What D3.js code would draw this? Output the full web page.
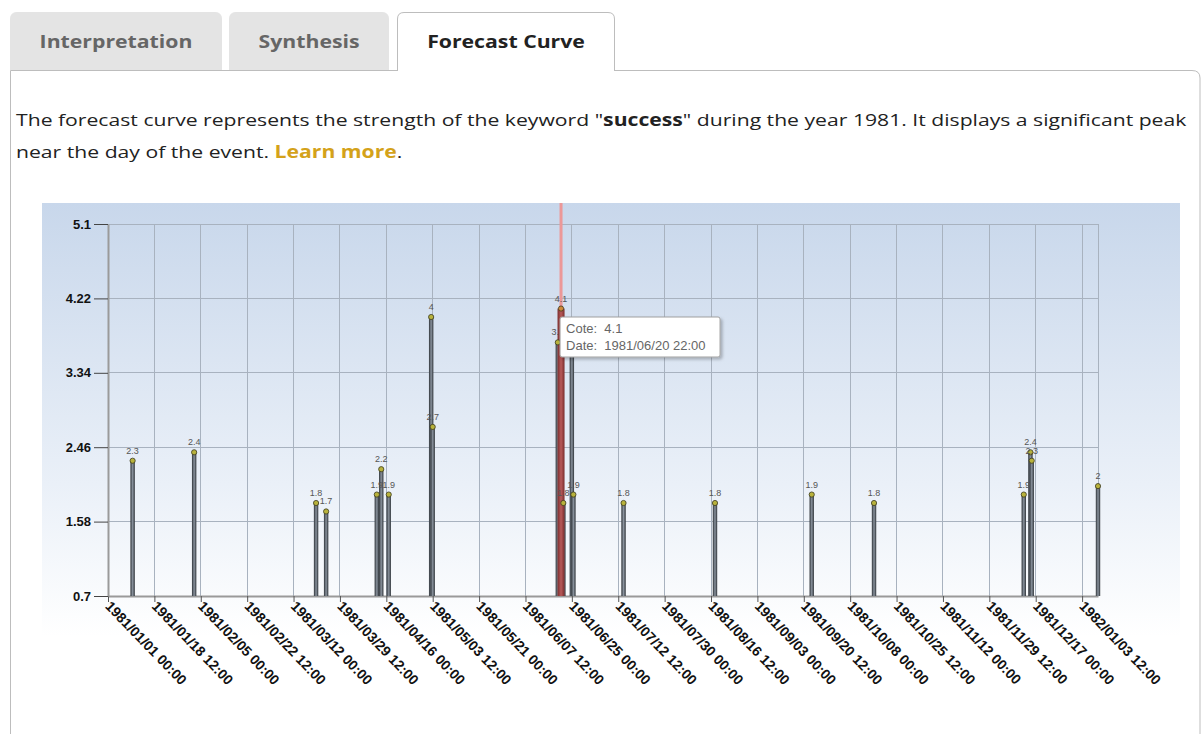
<!DOCTYPE html>
<html>
<head>
<meta charset="utf-8">
<script src="https://cdn.jsdelivr.net/npm/d3@7"></script>
<style>
  html, body { margin: 0; padding: 0; background: #fff; }
  svg { display: block; }
</style>
</head>
<body>
<svg id="page" width="1204" height="734"></svg>
<script>
// 데이터
const tabLabels = ["Interpretation", "Synthesis", "Forecast Curve"];
const activeTab = 2;

const pointDates = [
  "1981/01/10 07:00", "1981/02/02 12:00", "1981/03/20 12:00", "1981/03/24 07:00",
  "1981/04/12 10:00", "1981/04/14 02:00", "1981/04/16 22:00", "1981/05/02 22:00",
  "1981/05/03 12:00", "1981/06/19 17:00", "1981/06/20 22:00", "1981/06/21 19:00",
  "1981/06/25 00:00", "1981/06/25 14:00", "1981/07/14 12:00", "1981/08/18 00:00",
  "1981/09/23 12:00", "1981/10/17 00:00", "1981/12/12 12:00", "1981/12/15 00:00",
  "1981/12/15 12:00", "1982/01/09 12:00"
];
const pointValues = [
  2.3, 2.4, 1.8, 1.7,
  1.9, 2.2, 1.9, 4,
  2.7, 3.7, 4.1, 1.8,
  3.8, 1.9, 1.8, 1.8,
  1.9, 1.8, 1.9, 2.4,
  2.3, 2
];
const highlightIndex = 10;

const xTickLabels = [
  "1981/01/01 00:00", "1981/01/18 12:00", "1981/02/05 00:00", "1981/02/22 12:00",
  "1981/03/12 00:00", "1981/03/29 12:00", "1981/04/16 00:00", "1981/05/03 12:00",
  "1981/05/21 00:00", "1981/06/07 12:00", "1981/06/25 00:00", "1981/07/12 12:00",
  "1981/07/30 00:00", "1981/08/16 12:00", "1981/09/03 00:00", "1981/09/20 12:00",
  "1981/10/08 00:00", "1981/10/25 12:00", "1981/11/12 00:00", "1981/11/29 12:00",
  "1981/12/17 00:00", "1982/01/03 12:00"
];
const yTickValues = [0.7, 1.58, 2.46, 3.34, 4.22, 5.1];

const parse = d3.utcParse("%Y/%m/%d %H:%M");
const fmt = d3.utcFormat("%Y/%m/%d %H:%M");
const points = pointDates.map((s, i) => ({ date: parse(s), value: pointValues[i], i }));

const svg = d3.select("#page");
const defs = svg.append("defs");

// ---- 탭 + 패널 ----
const tabX = [[10, 222], [229, 389], [397, 615]];
const tabTop = 12, panelTop = 70;

svg.append("path")
  .attr("d", `M10.5,734 L10.5,${panelTop + 0.5} L1192,${panelTop + 0.5} Q1200,${panelTop + 0.5} 1200,${panelTop + 8} L1200,734`)
  .attr("fill", "none").attr("stroke", "#bdbdbd");

tabLabels.forEach((t, i) => {
  const [x0, x1] = tabX[i];
  const r = 7, active = i === activeTab;
  const bottom = panelTop + (active ? 1 : 0);
  svg.append("path")
    .attr("d", `M${x0 + 0.5},${bottom} L${x0 + 0.5},${tabTop + r} Q${x0 + 0.5},${tabTop + 0.5} ${x0 + r},${tabTop + 0.5} L${x1 - r},${tabTop + 0.5} Q${x1 - 0.5},${tabTop + 0.5} ${x1 - 0.5},${tabTop + r} L${x1 - 0.5},${bottom}`)
    .attr("fill", active ? "#fff" : "#e4e4e4")
    .attr("stroke", active ? "#bdbdbd" : "#e4e4e4");
  svg.append("text")
    .attr("transform", `translate(${(x0 + x1) / 2},48) scale(1.18,1)`)
    .attr("text-anchor", "middle")
    .style("font", "bold 18px 'Open Sans', sans-serif")
    .attr("fill", active ? "#222" : "#666")
    .text(t);
});

// ---- 설명 텍스트 (원본은 가로로 늘어난 글꼴) ----
const para = svg.append("g")
  .attr("transform", "translate(16,0) scale(1.245,1)")
  .style("font", "17px 'Open Sans', sans-serif").attr("fill", "#222");
const l1 = para.append("text").attr("x", 0).attr("y", 126);
l1.append("tspan").text('The forecast curve represents the strength of the keyword "');
l1.append("tspan").style("font-weight", "bold").text("success");
l1.append("tspan").text('" during the year 1981. It displays a significant peak');
const l2 = para.append("text").attr("x", 0).attr("y", 158);
l2.append("tspan").text("near the day of the event. ");
l2.append("tspan").style("font-weight", "bold").attr("fill", "#d4a21a").text("Learn more");
l2.append("tspan").text(".");

// ---- 차트 배경 ----
const bgGrad = defs.append("linearGradient").attr("id", "bgGrad")
  .attr("x1", 0).attr("y1", 0).attr("x2", 0).attr("y2", 1);
bgGrad.append("stop").attr("offset", "0%").attr("stop-color", "#c8d7eb");
bgGrad.append("stop").attr("offset", "55%").attr("stop-color", "#eaf0f8");
bgGrad.append("stop").attr("offset", "85%").attr("stop-color", "#ffffff");
svg.append("rect").attr("x", 42).attr("y", 203).attr("width", 1138).attr("height", 510)
  .attr("fill", "url(#bgGrad)");

// ---- 스케일 ----
const plot = { left: 108, right: 1098, top: 224, bottom: 596 };
const x = d3.scaleUtc()
  .domain([parse(xTickLabels[0]), points[points.length - 1].date])
  .range([plot.left, plot.right]);
const y = d3.scaleLinear()
  .domain([yTickValues[0], yTickValues[yTickValues.length - 1]])
  .range([plot.bottom, plot.top]);
const xTicks = xTickLabels.map(parse);

// 그리드
const grid = svg.append("g").attr("stroke", "#a8b2bf").attr("stroke-width", 1).attr("shape-rendering", "crispEdges");
grid.selectAll(".vg").data(xTicks).join("line")
  .attr("x1", d => x(d)).attr("x2", d => x(d)).attr("y1", plot.top).attr("y2", plot.bottom);
grid.selectAll(".hg").data(yTickValues).join("line")
  .attr("x1", plot.left).attr("x2", plot.right).attr("y1", d => y(d)).attr("y2", d => y(d));
grid.append("line").attr("x1", plot.right).attr("x2", plot.right).attr("y1", plot.top).attr("y2", plot.bottom);

// 축
const xAxis = svg.append("g").attr("transform", `translate(0,${plot.bottom})`)
  .call(d3.axisBottom(x).tickValues(xTicks).tickSize(6).tickSizeOuter(0).tickFormat(fmt));
xAxis.select(".domain").attr("stroke", "#9a9a9a").attr("stroke-width", 2);
xAxis.selectAll(".tick line").attr("stroke", "#555");
xAxis.selectAll(".tick text")
  .attr("text-anchor", "start")
  .attr("x", 0).attr("y", 0).attr("dy", 0)
  .attr("transform", "translate(-4,11) rotate(46)")
  .style("font", "bold 14px 'Liberation Sans', Arial, sans-serif")
  .attr("fill", "#111");

const yAxis = svg.append("g").attr("transform", `translate(${plot.left},0)`)
  .call(d3.axisLeft(y).tickValues(yTickValues).tickSize(14).tickSizeOuter(0).tickFormat(d => String(d)));
yAxis.select(".domain").attr("stroke", "#9a9a9a").attr("stroke-width", 2);
yAxis.selectAll(".tick line").attr("stroke", "#444");
yAxis.selectAll(".tick text")
  .attr("x", -17)
  .style("font", "bold 13px 'Liberation Sans', Arial, sans-serif")
  .attr("fill", "#111");

// 하이라이트 세로선
const hp = points[highlightIndex];
svg.append("line")
  .attr("x1", x(hp.date)).attr("x2", x(hp.date))
  .attr("y1", 203).attr("y2", plot.bottom)
  .attr("stroke", "#ec9898").attr("stroke-width", 3);

// 막대
const barGrad = defs.append("linearGradient").attr("id", "barGrad").attr("x1", 0).attr("x2", 1);
barGrad.append("stop").attr("offset", "0%").attr("stop-color", "#2d3237");
barGrad.append("stop").attr("offset", "50%").attr("stop-color", "#8a939e");
barGrad.append("stop").attr("offset", "100%").attr("stop-color", "#2d3237");
const redGrad = defs.append("linearGradient").attr("id", "redGrad").attr("x1", 0).attr("x2", 1);
redGrad.append("stop").attr("offset", "0%").attr("stop-color", "#7a2d2d");
redGrad.append("stop").attr("offset", "50%").attr("stop-color", "#b85a5a");
redGrad.append("stop").attr("offset", "100%").attr("stop-color", "#7a2d2d");

const sorted = points.slice().sort((a, b) => (a.i === highlightIndex) - (b.i === highlightIndex));
svg.append("g").selectAll("rect").data(sorted).join("rect")
  .attr("x", d => x(d.date) - (d.i === highlightIndex ? 3.5 : 2.2))
  .attr("width", d => d.i === highlightIndex ? 7 : 4.4)
  .attr("y", d => y(d.value))
  .attr("height", d => y(yTickValues[0]) - y(d.value))
  .attr("fill", d => d.i === highlightIndex ? "url(#redGrad)" : "url(#barGrad)");

// 점 + 값 라벨
svg.append("g").selectAll("circle").data(points).join("circle")
  .attr("cx", d => x(d.date)).attr("cy", d => y(d.value)).attr("r", 2.6)
  .attr("fill", d => d.i === highlightIndex ? "#d08a3a" : "#b8b23c")
  .attr("stroke", "#3b3a1e").attr("stroke-width", 0.8);
svg.append("g").selectAll("text").data(points).join("text")
  .attr("x", d => x(d.date)).attr("y", d => y(d.value) - 7)
  .attr("text-anchor", "middle")
  .style("font", "9px 'Liberation Sans', Arial, sans-serif")
  .attr("fill", "#555")
  .text(d => String(d.value));

// 툴팁
const tip = svg.append("g").attr("transform", `translate(${x(hp.date) - 1},317)`);
const shadow = defs.append("filter").attr("id", "tipShadow").attr("x", "-10%").attr("y", "-20%").attr("width", "130%").attr("height", "160%");
shadow.append("feDropShadow").attr("dx", 2).attr("dy", 2).attr("stdDeviation", 1.5).attr("flood-color", "#000").attr("flood-opacity", 0.25);
tip.append("rect").attr("width", 160).attr("height", 40).attr("rx", 2)
  .attr("fill", "#fff").attr("stroke", "#a0a0a0").attr("filter", "url(#tipShadow)");
const tipFont = "13px 'Liberation Sans', Arial, sans-serif";
tip.append("text").attr("x", 6).attr("y", 16).style("font", tipFont).attr("fill", "#666")
  .attr("xml:space", "preserve").text(`Cote:  ${hp.value}`);
tip.append("text").attr("x", 6).attr("y", 33).style("font", tipFont).attr("fill", "#666")
  .attr("xml:space", "preserve").text(`Date:  ${fmt(hp.date)}`);
</script>
</body>
</html>
